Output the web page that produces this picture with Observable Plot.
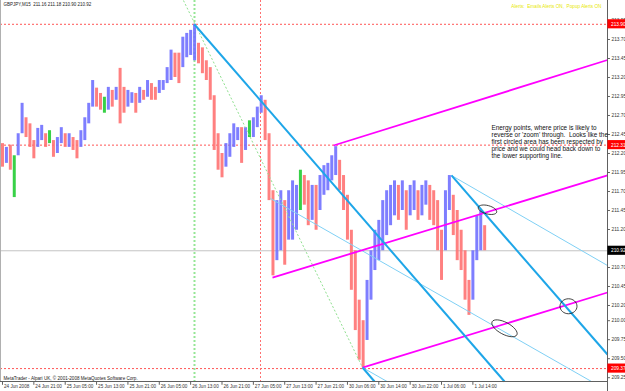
<!DOCTYPE html>
<html><head><meta charset="utf-8">
<script src="https://cdn.jsdelivr.net/npm/d3@7"></script>
<script src="https://cdn.jsdelivr.net/npm/@observablehq/plot@0.6"></script>
<style>
body{margin:0;background:#fff;}
#chart{width:625px;height:391px;overflow:hidden;}
</style></head><body><div id="chart"></div>
<script>
// ---- hourly bars (index 0 = 24 Jun 13:00) ----
const high = [212.33,212.28,212.31,212.17,212.46,212.86,212.67,212.59,212.37,212.53,
212.57,212.46,212.50,212.37,212.41,212.54,212.46,212.46,212.41,212.37,
212.50,212.67,212.86,213.16,213.06,212.99,212.94,213.07,213.03,213.07,
213.32,213.07,213.03,213.00,212.99,213.07,213.03,213.16,213.12,213.07,
213.16,213.16,213.33,213.56,213.52,213.52,213.73,213.78,213.82,213.90,
213.65,213.59,213.42,213.33,212.96,212.46,212.20,212.33,212.46,212.59,
212.54,212.54,212.54,212.63,212.67,212.81,212.96,212.90,212.46,211.71,
211.58,211.71,211.58,211.71,211.84,211.78,211.98,211.91,211.84,211.78,
211.78,211.91,212.04,212.07,212.17,212.29,212.11,211.91,211.65,211.19,
210.92,210.27,210.00,210.53,210.92,211.19,211.32,211.58,211.71,211.78,
211.84,211.78,211.84,211.71,211.78,211.84,211.71,211.78,211.84,211.78,
211.71,211.58,211.19,211.71,211.91,211.65,211.45,211.19,210.92,210.53,
210.92,211.38,211.45,211.25];
const low = [212.02,212.07,211.98,211.62,212.17,212.46,212.41,212.28,212.13,212.28,
212.37,212.28,212.33,212.15,212.20,212.33,212.28,212.28,212.24,212.13,
212.28,212.37,212.59,212.81,212.81,212.77,212.73,212.77,212.81,212.90,
212.59,212.73,212.81,212.86,212.73,212.86,212.90,212.94,212.90,212.90,
212.99,213.03,213.12,213.16,213.20,213.12,213.33,213.46,213.49,213.42,
213.38,213.25,213.16,212.90,212.24,211.98,211.88,212.02,212.15,212.28,
212.37,212.07,212.24,212.41,212.41,212.54,212.73,212.37,211.58,210.59,
210.79,210.92,210.73,211.06,211.06,211.19,211.45,211.52,211.25,211.32,
211.19,211.45,211.65,211.71,211.84,211.91,211.71,211.45,211.06,210.40,
209.87,209.48,209.38,209.74,210.27,210.66,210.79,210.92,211.12,211.25,
211.38,211.32,211.45,211.19,211.38,211.45,211.32,211.38,211.52,211.32,
211.25,210.92,210.53,210.92,211.45,211.12,210.79,210.66,210.27,210.07,
210.27,210.79,210.92,210.92];
// u = up bar, d = down bar, g = doji
const barDir = ("dudguudddu"+"udgduududd"+"uuuuddgudu"+"dduudududd"+"uuuudduuuu"+
"ddddddduuu"+"uduguuuddd"+"uuduuugddu"+"duuuuudddd"+"ddduuuuuuu"+
"ududuuduud"+"ddduuddddd"+"uuud").split("");

// ---- axis tick labels ----
const timeTicks = [0,8,16,24,32,40,48,56,64,72,80,88,96,104,112,120];
const timeLabels = ["24 Jun 2008","24 Jun 21:00","25 Jun 05:00","25 Jun 13:00","25 Jun 21:00",
"26 Jun 05:00","26 Jun 13:00","26 Jun 21:00","27 Jun 05:00","27 Jun 13:00","27 Jun 21:00",
"30 Jun 06:00","30 Jun 14:00","30 Jun 22:00","1 Jul 06:00","1 Jul 14:00"];
const priceTicks = [213.95,213.70,213.45,213.20,212.95,212.70,212.45,212.20,211.95,211.70,
211.45,211.20,210.70,210.45,210.20,210.00,209.75,209.50,209.25];

// ---- horizontal / vertical levels ----
const redLevels = [213.90, 212.31, 209.37];
const currentPrice = 210.92;
const greenVertical = [48.98];
const redVertical = [65.82];

// ---- drawn lines: [h1, p1, h2, p2] ----
const thickBlue = [[48.98,213.897,128.06,209.20],[114.54,211.911,154.34,209.555],[91.84,209.384,94.90,209.20]];
const thinBlue = [[114.54,211.911,154.34,210.726],[91.84,209.384,98.11,209.20],[68.37,211.608,150.26,209.20]];
const magenta = [[84.44,212.305,154.34,213.430],[68.88,210.568,154.34,211.911],[91.84,209.384,154.34,210.371]];
const greenDiag = [[46.17,214.213,91.84,209.384]];

// ---- circled energy points: [h, p] ----
const circles = [[123.72,211.46],[144.39,210.19],[128.06,209.90]];

const note = ["Energy points, where price is likely to",
"reverse or 'zoom' through.  Looks like the",
"first circled area has been respected by",
"price and we could head back down to",
"the lower supporting line."];
const header = "GBPJPY,M15  211.16 211.18 210.90 210.92";
const alerts = "Alerts:  Emails Alerts ON,  Popup Alerts ON";
const footer = "MetaTrader - Alpari UK, © 2001-2008 MetaQuotes Software Corp.";

// ---------------------------------------------------------------
const xMin = -0.51, xMax = 154.34, yMin = 209.20, yMax = 214.213;
const bars = high.map((hi, i) => ({h: i, hi, lo: low[i], d: barDir[i]}));
const barColor = {u: "#7070ff", d: "#ff7272", g: "#22cc33"};
const nb = s => s.replace(/  /g, "\u00a0 ");

function ellipseSymbol(rx, ry, deg) {
  const a = deg * Math.PI / 180, c = Math.cos(a), s = Math.sin(a), k = 0.5523;
  const P = (x, y) => [x * c - y * s, x * s + y * c];
  return {draw(ctx) {
    ctx.moveTo(...P(rx, 0));
    ctx.bezierCurveTo(...P(rx, k * ry), ...P(k * rx, ry), ...P(0, ry));
    ctx.bezierCurveTo(...P(-k * rx, ry), ...P(-rx, k * ry), ...P(-rx, 0));
    ctx.bezierCurveTo(...P(-rx, -k * ry), ...P(-k * rx, -ry), ...P(0, -ry));
    ctx.bezierCurveTo(...P(k * rx, -ry), ...P(rx, -k * ry), ...P(rx, 0));
    ctx.closePath();
  }};
}
const ellipseShapes = [ellipseSymbol(9.5, 4.2, 15), ellipseSymbol(8.5, 7.5, 0), ellipseSymbol(14, 6, 28)];

const seg = (arr, opts) => Plot.link(arr, {x1: d => d[0], y1: d => d[1], x2: d => d[2], y2: d => d[3], ...opts});

const priceBoxes = [
  {p: redLevels[0], fill: "#ff0000"},
  {p: redLevels[1], fill: "#ff0000"},
  {p: redLevels[2], fill: "#ff0000"},
  {p: currentPrice, fill: "#000000"}
];

const chart = Plot.plot({
  width: 625, height: 391,
  marginLeft: 0, marginRight: 18, marginTop: 0, marginBottom: 10,
  style: {fontFamily: "'Liberation Sans', Arial, sans-serif", background: "#fff"},
  x: {domain: [xMin, xMax], axis: null},
  y: {domain: [yMin, yMax], axis: null},
  marks: [
    Plot.ruleY([currentPrice], {stroke: "#c4c4c4", strokeWidth: 1}),
    Plot.ruleY(redLevels, {stroke: "#ff5555", strokeDasharray: "2,2", strokeWidth: 1}),
    Plot.ruleX(greenVertical, {stroke: "#96e696", strokeDasharray: "2,2", strokeWidth: 2}),
    Plot.ruleX(redVertical, {stroke: "#ff7070", strokeDasharray: "2,2", strokeWidth: 1}),
    Plot.ruleX(bars, {x: "h", y1: "lo", y2: "hi", stroke: d => barColor[d.d], strokeWidth: 3.0, strokeOpacity: 0.9}),
    seg(greenDiag, {stroke: "#90e090", strokeDasharray: "2,2", strokeWidth: 1}),
    seg(thinBlue, {stroke: "#7fd0f5", strokeWidth: 1}),
    seg(magenta, {stroke: "#ff00ff", strokeWidth: 1.8}),
    seg(thickBlue, {stroke: "#1ea6e8", strokeWidth: 2}),
    ...circles.map((c, i) => Plot.dot([c], {x: d => d[0], y: d => d[1], symbol: ellipseShapes[i], fill: "none", stroke: "#111", strokeWidth: 0.8})),
    // frame lines
    Plot.ruleX([xMin], {stroke: "#b0b0b0"}),
    Plot.ruleX([xMax], {stroke: "#606060", y1: yMin - 0.14, y2: yMax}),
    Plot.ruleY([yMin], {stroke: "#606060"}),
    // right price axis
    Plot.ruleY(priceTicks, {x1: xMax, x2: xMax + 0.75, stroke: "#606060"}),
    Plot.text(priceTicks, {x: xMax, y: d => d, text: d => d.toFixed(2), dx: 4, textAnchor: "start", fontSize: 4.8, fill: "#333"}),
    Plot.rect(priceBoxes, {x1: xMax + 0.1, x2: xMax + 5, y1: d => d.p - 0.06, y2: d => d.p + 0.06, fill: d => d.fill}),
    Plot.text(priceBoxes, {x: xMax, y: "p", text: d => d.p.toFixed(2), dx: 3.5, textAnchor: "start", fontSize: 4.8, fill: "#fff"}),
    // bottom time axis
    Plot.ruleX(timeTicks, {x: d => d, y1: yMin, y2: yMin - 0.05, stroke: "#606060"}),
    Plot.text(timeTicks, {x: d => d, y: yMin, text: (d, i) => timeLabels[i], dx: 1.5, dy: 5.5, textAnchor: "start", fontSize: 4.6, fill: "#333"}),
    // texts
    Plot.text([nb(header)], {frameAnchor: "top-left", dx: 3, dy: 2.5, lineAnchor: "top", textAnchor: "start", fontSize: 4.5, fill: "#222"}),
    Plot.text([nb(alerts)], {frameAnchor: "top-right", dx: -6, dy: 4.5, lineAnchor: "top", textAnchor: "end", fontSize: 4.7, fill: "#e8e800"}),
    Plot.text([nb(footer)], {frameAnchor: "bottom-left", dx: 3, dy: -2, lineAnchor: "bottom", textAnchor: "start", fontSize: 4.6, fill: "#222"}),
    Plot.text([nb(note.join("\n"))], {frameAnchor: "top-left", dx: 491, dy: 124.5, lineAnchor: "top", textAnchor: "start", fontSize: 6.4, lineHeight: 1.09, fill: "#111"})
  ]
});
document.getElementById("chart").appendChild(chart);
</script>
</body></html>
